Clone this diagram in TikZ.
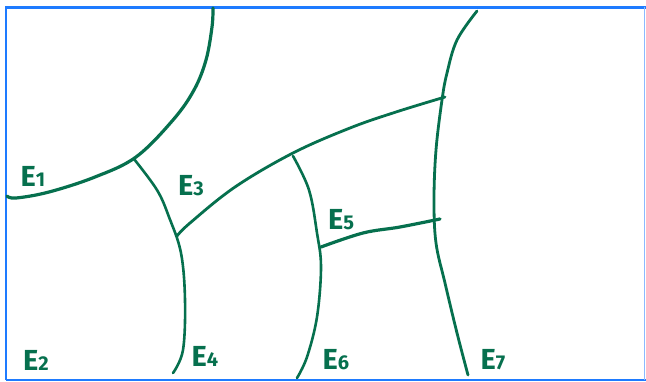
\documentclass[tikz,border=0pt]{standalone}
\usepackage{fontspec}
\setmainfont{Fira Sans}
\definecolor{ink}{RGB}{6,112,78}
\definecolor{frameblue}{RGB}{30,123,255}
\definecolor{framelight}{RGB}{140,185,255}
\newcommand{\sdig}[1]{{\fontsize{20}{20}\selectfont #1}}
\begin{document}
\begin{tikzpicture}[x=1pt,y=-1pt,
  stroke/.style={ink,line width=2.8pt,line cap=round,line join=round},
  lbl/.style={ink,font=\fontsize{29}{29}\selectfont\bfseries,inner sep=0pt,anchor=center}]
\useasboundingbox (0,0) rectangle (646,381);
\fill[white] (0,0) rectangle (646,381);
% frame
\draw[frameblue,line width=3pt] (5,7.5) -- (646,7.5);
\draw[frameblue,line width=2pt] (6,7) -- (6,380);
\draw[frameblue,line width=2pt] (6,379.5) -- (646,379.5);
\draw[framelight,line width=1pt] (644.5,7) -- (644.5,380);
% curves
\draw[stroke,line width=3.2pt] plot[smooth,tension=0.6] coordinates {(213,8) (212,27) (206,60) (194,90) (173,120) (136,157) (95,177) (49,192) (16,198) (7,196)};
\draw[stroke,line width=2.6pt] plot[smooth,tension=0.6] coordinates {(134,159) (157,190) (169,217) (181,253) (185,300) (183,350) (173,373)};
\draw[stroke] plot[smooth,tension=0.6] coordinates {(177,236) (190,223) (235,187) (293,153) (350,128) (396,112) (445,97)};
\draw[stroke,line width=2.6pt] plot[smooth,tension=0.6] coordinates {(293,156) (309,190) (317,233) (321,267) (317,317) (307,357) (297,378)};
\draw[stroke,line width=3.2pt] plot[smooth,tension=0.6] coordinates {(321,247) (363,233) (400,227) (440,219)};
\draw[stroke] plot[smooth,tension=0.6] coordinates {(477,11) (457,40) (447,73) (442,100) (436,150) (434,200) (436,243) (445,283) (457,333) (468,375)};
% labels
\node[lbl] (e1) at (33,176) {E\sdig{1}};
\node[lbl] (e2) at (36,360) {E\sdig{2}};
\node[lbl] (e3) at (191,186) {E\sdig{3}};
\node[lbl] (e4) at (205,356) {E\sdig{4}};
\node[lbl] (e5) at (341,220) {E\sdig{5}};
\node[lbl] (e6) at (336,360) {E\sdig{6}};
\node[lbl] (e7) at (493,360) {E\sdig{7}};
\end{tikzpicture}
\end{document}
